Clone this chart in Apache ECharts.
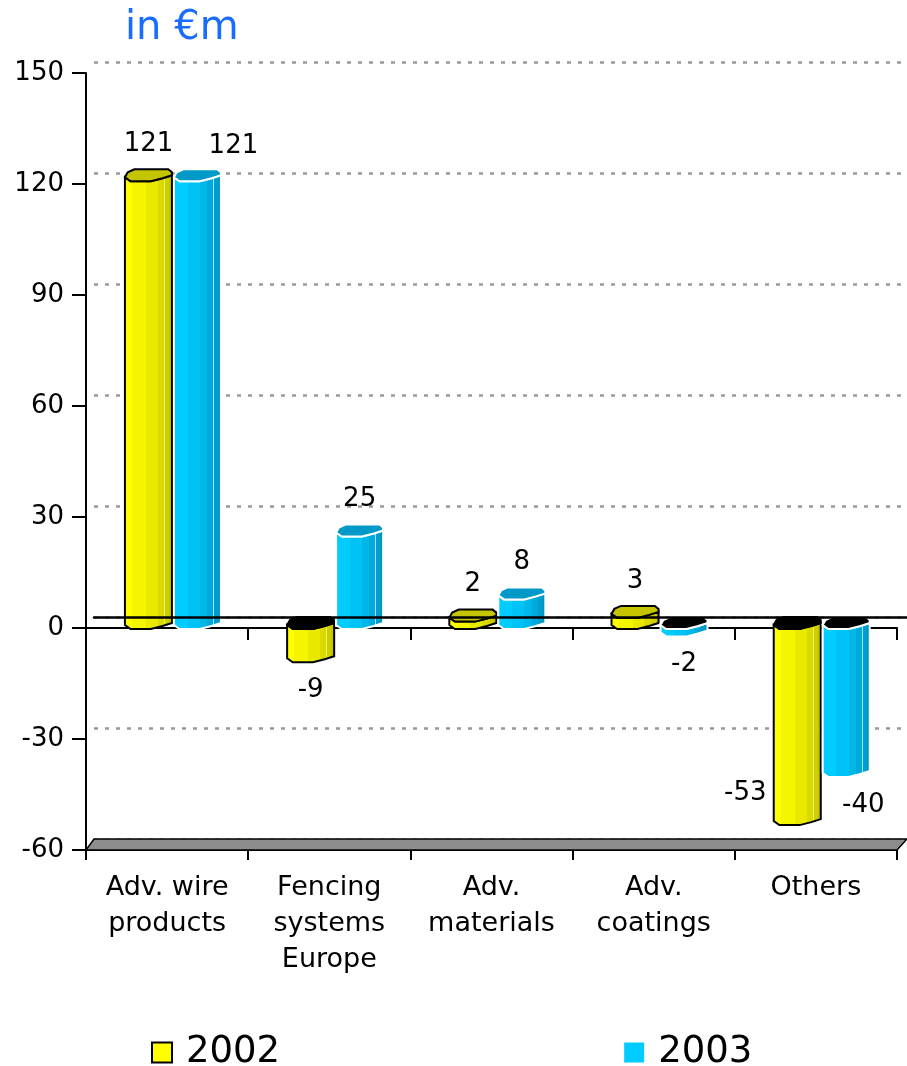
<!DOCTYPE html>
<html>
<head>
<meta charset="utf-8">
<script src="https://cdn.jsdelivr.net/npm/echarts@6/dist/echarts.min.js"></script>
<style>
  html, body { margin: 0; padding: 0; background: #ffffff; }
  #chart { width: 907px; height: 1066px; }
</style>
</head>
<body>
<div id="chart"></div>
<script>
// Segment results, in € millions
const categories = ['Adv. wire\nproducts', 'Fencing\nsystems\nEurope', 'Adv.\nmaterials', 'Adv.\ncoatings', 'Others'];
const seriesNames = ['2002', '2003'];
const values2002 = [121, -9, 2, 3, -53];
const values2003 = [121, 25, 8, -2, -40];
const yMin = -60;
const yMax = 150;
const yStep = 30;

const FONT = 'DejaVu Sans';

// Column looks: striped front/side faces, a flat cap on top
const looks = [
  {
    stops: [[0, '#ffff00'], [0.17, '#ffff00'], [0.17, '#f5f500'], [0.45, '#f5f500'], [0.45, '#e9e900'], [0.69, '#e9e900'],
            [0.69, '#dada00'], [0.82, '#dada00'], [0.82, '#eeee70'], [0.835, '#eeee70'], [0.835, '#cfcf00'], [0.92, '#cfcf00'],
            [0.92, '#c3c300'], [1, '#c3c300']],
    cap: '#c4c400', edge: '#000000', legend: '#ffff00'
  },
  {
    stops: [[0, '#00ccff'], [0.3, '#00ccff'], [0.3, '#00c3f5'], [0.55, '#00c3f5'], [0.55, '#00b7e9'], [0.7, '#00b7e9'],
            [0.7, '#00a9db'], [0.82, '#00a9db'], [0.82, '#a0e6f8'], [0.835, '#a0e6f8'], [0.835, '#009ecf'], [0.92, '#009ecf'],
            [0.92, '#0096c3'], [1, '#0096c3']],
    cap: '#0099c8', edge: '#ffffff', legend: '#00ccff'
  }
];

// Small nudges for value labels that sit beside their column
const labelNudge = {
  '1-0': { dx: 36, dy: 2 },
  '0-4': { dx: -52, dy: -60 },
  '1-4': { dx: 17, dy: 0 }
};

function makeColumnRenderer(s) {
  return function (params, api) {
    const ci = api.value(0);
    const v = api.value(1);
    const bw = api.size([1, 0])[0];
    const base = api.coord([ci, 0]);
    const cx = base[0];
    const y0 = base[1];
    const yv = api.coord([ci, v])[1];
    const w = bw * 0.29;
    const x0 = cx - bw * 0.26 + s * (w + bw * 0.012);
    const x1 = x0 + w;
    const look = looks[s];

    // front rim of a cross-section and the far rim of the cap
    const front = (y) => [[x0, y - 3], [x0 + 0.12 * w, y + 1], [x0 + 0.55 * w, y + 1], [x0 + 0.8 * w, y - 2], [x1, y - 5]];
    const back = (y) => [[x1, y - 8], [x1 - 0.08 * w, y - 11], [x0 + 0.2 * w, y - 11], [x0 + 0.06 * w, y - 8]];

    const yt = Math.min(y0, yv);
    const yb = Math.max(y0, yv);
    const bodyPts = front(yt).concat(front(yb).reverse());
    const capY = v >= 0 ? yv : y0;
    const capPts = front(capY).concat(back(capY));

    const nudge = labelNudge[s + '-' + ci] || { dx: 0, dy: 0 };
    const lx = (x0 + x1) / 2 + nudge.dx;
    const ly = (v >= 0 ? yv - 36 : yv + 29) + nudge.dy;

    return {
      type: 'group',
      children: [
        {
          type: 'polygon',
          shape: { points: bodyPts },
          style: {
            fill: new echarts.graphic.LinearGradient(0, 0, 1, 0,
              look.stops.map(p => ({ offset: p[0], color: p[1] }))),
            stroke: look.edge,
            lineWidth: 2
          }
        },
        {
          type: 'polygon',
          shape: { points: capPts },
          style: { fill: v >= 0 ? look.cap : '#000000', stroke: look.edge, lineWidth: 2 }
        },
        {
          type: 'text',
          style: {
            text: String(v),
            x: lx,
            y: ly,
            fill: '#000000',
            font: '26px "' + FONT + '"',
            align: 'center',
            verticalAlign: 'middle'
          }
        }
      ]
    };
  };
}

// Grey floor under the plot at the axis minimum
function renderFloor(params, api) {
  const bw = api.size([1, 0])[0];
  const left = api.coord([0, yMin]);
  const right = api.coord([categories.length - 1, yMin]);
  const xl = left[0] - bw / 2;
  const xr = right[0] + bw / 2;
  const y = left[1];
  return {
    type: 'polygon',
    shape: { points: [[xl, y], [xr, y], [xr + 10, y - 11], [xl + 8, y - 11]] },
    style: { fill: '#8c8c8c', stroke: '#000000', lineWidth: 1.5 }
  };
}

const chart = echarts.init(document.getElementById('chart'), null, { renderer: 'canvas' });

chart.setOption({
  backgroundColor: '#ffffff',
  animation: false,
  title: {
    text: 'in €m',
    left: 120,
    top: 4,
    textStyle: { color: '#1a6cff', fontFamily: FONT, fontSize: 40, fontWeight: 'normal' }
  },
  legend: {
    left: 146,
    top: 1029,
    itemWidth: 20,
    itemHeight: 20,
    itemGap: 344,
    selectedMode: false,
    textStyle: { fontFamily: FONT, fontSize: 37, color: '#000000', padding: [0, 0, 0, 9] },
    data: [
      { name: seriesNames[0], icon: 'rect', itemStyle: { color: looks[0].legend, borderColor: '#000000', borderWidth: 2 } },
      { name: seriesNames[1], icon: 'rect', itemStyle: { color: looks[1].legend, borderWidth: 0 } }
    ]
  },
  grid: [
    { left: 86, right: 10, top: 73, bottom: 216, outerBoundsMode: 'none', containLabel: false },
    { left: 94, right: 0, top: 62, bottom: 227, outerBoundsMode: 'none', containLabel: false }
  ],
  xAxis: [
    {
      gridIndex: 0, type: 'category', data: categories, position: 'bottom',
      axisLine: { onZero: false, lineStyle: { color: '#000000', width: 2 } },
      axisTick: { show: true, length: 10, lineStyle: { color: '#000000', width: 2 } },
      axisLabel: { interval: 0, margin: 20, color: '#000000', fontFamily: FONT, fontSize: 27, lineHeight: 36 },
      splitLine: { show: false }
    },
    {
      gridIndex: 0, type: 'category', data: categories, position: 'bottom',
      axisLine: { onZero: true, lineStyle: { color: '#000000', width: 2 } },
      axisTick: { show: true, length: 12, lineStyle: { color: '#000000', width: 2 } },
      axisLabel: { show: false },
      splitLine: { show: false }
    },
    {
      gridIndex: 1, type: 'category', data: categories, z: 3,
      axisLine: { onZero: true, lineStyle: { color: '#000000', width: 2.5 } },
      axisTick: { show: false },
      axisLabel: { show: false },
      splitLine: { show: false }
    }
  ],
  yAxis: [
    {
      gridIndex: 0, type: 'value', min: yMin, max: yMax, interval: yStep,
      axisLine: { show: true, lineStyle: { color: '#000000', width: 2 } },
      axisTick: { show: true, length: 14, lineStyle: { color: '#000000', width: 2 } },
      axisLabel: { margin: 22, color: '#000000', fontFamily: FONT, fontSize: 26 },
      splitLine: { show: false }
    },
    {
      gridIndex: 1, type: 'value', min: yMin, max: yMax, interval: yStep,
      axisLine: { show: false },
      axisTick: { show: false },
      axisLabel: { show: false },
      splitLine: { show: true, lineStyle: { color: '#999999', width: 2.5, type: [4, 7] } }
    }
  ],
  series: [
    {
      type: 'custom', name: 'floor', xAxisIndex: 0, yAxisIndex: 0, silent: true,
      data: [[0, yMin]], renderItem: renderFloor, z: 1
    },
    {
      type: 'custom', name: seriesNames[0], xAxisIndex: 0, yAxisIndex: 0,
      itemStyle: { color: looks[0].legend },
      encode: { x: 0, y: 1 },
      data: values2002.map((v, i) => [i, v]),
      renderItem: makeColumnRenderer(0), z: 2
    },
    {
      type: 'custom', name: seriesNames[1], xAxisIndex: 0, yAxisIndex: 0,
      itemStyle: { color: looks[1].legend },
      encode: { x: 0, y: 1 },
      data: values2003.map((v, i) => [i, v]),
      renderItem: makeColumnRenderer(1), z: 3
    }
  ]
});
</script>
</body>
</html>
